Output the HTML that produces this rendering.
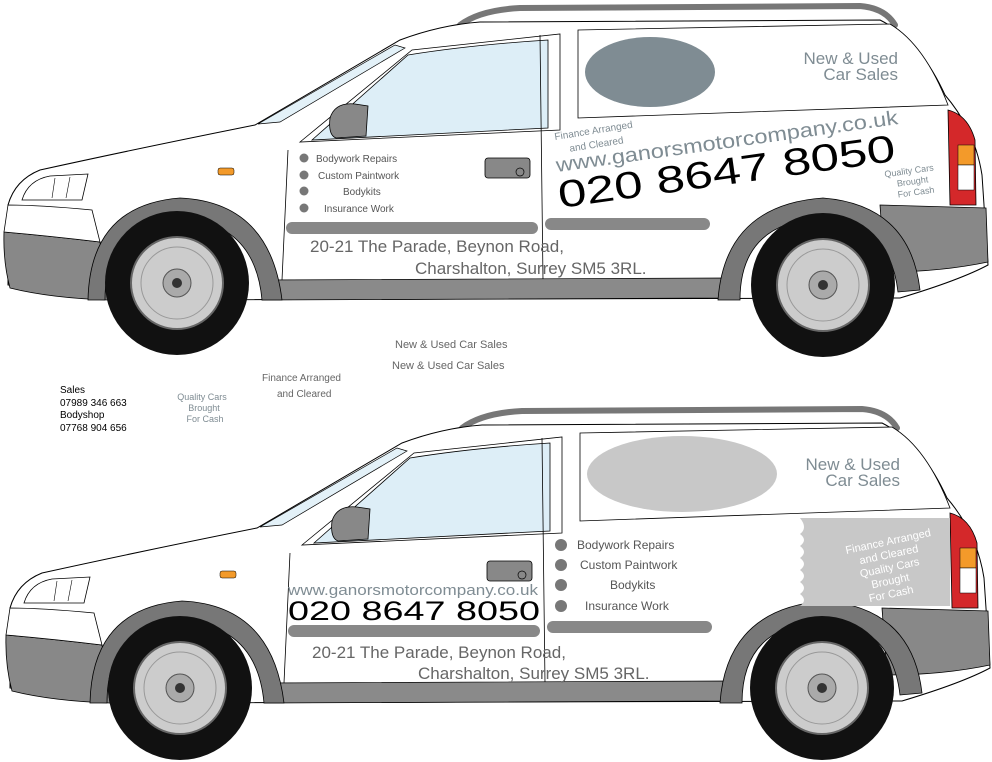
<!DOCTYPE html>
<html><head><meta charset="utf-8"><style>
html,body{margin:0;padding:0;background:#fff;}
svg{display:block;font-family:"Liberation Sans",sans-serif;}
</style></head><body>
<svg width="992" height="762" viewBox="0 0 992 762" xmlns="http://www.w3.org/2000/svg">
<defs>
<g id="wheel">
  <circle cx="0" cy="0" r="72" fill="#111"/>
  <circle cx="0" cy="0" r="46" fill="#ccc" stroke="#666" stroke-width="2"/>
  <circle cx="0" cy="0" r="36" fill="none" stroke="#999" stroke-width="1"/>
  <circle cx="0" cy="0" r="14" fill="#aaa" stroke="#555" stroke-width="1"/>
  <circle cx="0" cy="0" r="5" fill="#333"/>
</g>
<g id="car">
  <path d="M460,25 Q480,10 520,8 L860,6 Q885,8 895,25" fill="none" stroke="#777" stroke-width="6" stroke-linecap="round"/>
  <path d="M8,205 Q15,180 40,170 Q140,148 255,125 L400,40 Q440,25 480,22 L880,20 Q920,40 945,95 Q975,130 982,175 L988,265 Q960,280 900,298 L110,300 L8,285 Z" fill="#fff" stroke="#000" stroke-width="1"/>
  <path d="M258,124 L395,45 L405,48 L280,122 Z" fill="#e3f1f8" stroke="#000" stroke-width="0.7"/>
  <path d="M312,140 L408,55 Q470,45 548,40 L548,128 Z" fill="#ddeef7" stroke="#000" stroke-width="0.8"/>
  <path d="M300,142 L412,50 L560,34 L560,130 Z" fill="none" stroke="#000" stroke-width="0.8"/>
  <path d="M578,30 L890,24 Q925,45 948,105 L578,118 Z" fill="#fff" stroke="#000" stroke-width="0.8"/>
  <path d="M540,35 L543,280 M288,150 L282,280" fill="none" stroke="#000" stroke-width="0.8"/>
  <path d="M330,118 Q335,102 355,104 L368,106 L366,136 L336,138 Q328,135 330,118 Z" fill="#888" stroke="#000" stroke-width="0.8"/>
  <rect x="485" y="158" width="45" height="20" rx="3" fill="#888" stroke="#000" stroke-width="0.8"/>
  <circle cx="520" cy="172" r="4" fill="none" stroke="#000" stroke-width="0.7"/>
  <rect x="286" y="222" width="252" height="12" rx="6" fill="#888"/>
  <rect x="545" y="218" width="165" height="12" rx="6" fill="#888"/>
  <path d="M262,280 L722,278 L722,298 L262,300 Z" fill="#8a8a8a" stroke="#000" stroke-width="0.7"/>
  <path d="M4,232 Q50,236 100,242 L108,300 Q50,298 10,288 Q3,262 4,232 Z" fill="#888" stroke="#000" stroke-width="0.8"/>
  <path d="M4,232 Q50,236 100,242 L92,210 Q40,205 8,205 Z" fill="#fff" stroke="#000" stroke-width="0.8"/>
  <path d="M22,200 Q28,180 50,176 L88,174 L82,200 Z" fill="#fff" stroke="#000" stroke-width="0.8"/>
  <path d="M55,178 L52,198 M70,177 L66,198" stroke="#000" stroke-width="0.6"/>
  <rect x="218" y="168" width="16" height="7" rx="2" fill="#f39a2a" stroke="#000" stroke-width="0.5"/>
  <path d="M880,205 L986,208 L988,262 Q940,272 885,272 Z" fill="#888" stroke="#000" stroke-width="0.8"/>
  <path d="M948,110 Q968,115 975,140 L976,205 L950,205 Z" fill="#d4282a" stroke="#000" stroke-width="0.8"/>
  <rect x="958" y="145" width="16" height="20" fill="#f39a2a" stroke="#000" stroke-width="0.5"/>
  <rect x="958" y="165" width="16" height="25" fill="#fff" stroke="#000" stroke-width="0.5"/>
  <path d="M88,300 Q90,205 180,198 Q270,202 282,300 L262,300 Q255,222 178,218 Q105,222 105,300 Z" fill="#777" stroke="#000" stroke-width="0.8"/>
  <path d="M718,300 Q725,205 823,198 Q910,205 920,290 L898,292 Q890,222 822,218 Q740,222 740,300 Z" fill="#777" stroke="#000" stroke-width="0.8"/>
</g>
</defs>

<use href="#car"/>
<use href="#wheel" x="177" y="283"/>
<use href="#wheel" x="823" y="285"/>
<ellipse cx="650" cy="72" rx="65" ry="35" fill="#7f8c93"/>
<text x="898" y="64" font-size="17" fill="#7f8c93" text-anchor="end">New &amp; Used</text>
<text x="898" y="80" font-size="17" fill="#7f8c93" text-anchor="end">Car Sales</text>
<g font-size="10" fill="#555">
<circle cx="304" cy="158" r="4.5" fill="#777"/><text x="316" y="162">Bodywork Repairs</text>
<circle cx="304" cy="175" r="4.5" fill="#777"/><text x="318" y="179">Custom Paintwork</text>
<circle cx="304" cy="191" r="4.5" fill="#777"/><text x="343" y="195">Bodykits</text>
<circle cx="304" cy="208" r="4.5" fill="#777"/><text x="324" y="212">Insurance Work</text>
</g>
<g transform="rotate(-9 555 140)" fill="#7f8c93" font-size="10">
<text x="555" y="140">Finance Arranged</text>
<text x="568" y="154">and Cleared</text>
</g>
<text transform="rotate(-8 557 172)" x="557" y="172" font-size="20" fill="#7f8c93" textLength="345" lengthAdjust="spacingAndGlyphs">www.ganorsmotorcompany.co.uk</text>
<text transform="rotate(-8 560 208)" x="560" y="208" font-size="38" fill="#000" textLength="340" lengthAdjust="spacingAndGlyphs">020 8647 8050</text>
<g transform="rotate(-8 880 180)" fill="#7f8c93" font-size="9" text-anchor="middle">
<text x="910" y="178">Quality Cars</text><text x="912" y="189">Brought</text><text x="914" y="200">For Cash</text>
</g>
<text x="310" y="252" font-size="17" fill="#666">20-21 The Parade,  Beynon Road,</text>
<text x="415" y="274" font-size="17" fill="#666">Charshalton, Surrey SM5 3RL.</text>

<text x="395" y="348" font-size="11" fill="#666">New &amp; Used Car Sales</text>
<text x="392" y="369" font-size="11" fill="#666">New &amp; Used Car Sales</text>
<text x="262" y="381" font-size="10" fill="#666">Finance Arranged</text>
<text x="277" y="397" font-size="10" fill="#666">and Cleared</text>
<g font-size="9" fill="#7f8c93" text-anchor="middle">
<text x="202" y="400">Quality Cars</text><text x="204" y="411">Brought</text><text x="205" y="422">For Cash</text>
</g>
<g font-size="10" fill="#000">
<text x="60" y="393">Sales</text><text x="60" y="406">07989 346 663</text>
<text x="60" y="418">Bodyshop</text><text x="60" y="431">07768 904 656</text>
</g>

<g transform="translate(2,403)"><use href="#car"/></g>
<use href="#wheel" x="180" y="688"/>
<use href="#wheel" x="822" y="688"/>
<ellipse cx="682" cy="474" rx="95" ry="38" fill="#c8c8c8"/>
<text x="900" y="470" font-size="17" fill="#7f8c93" text-anchor="end">New &amp; Used</text>
<text x="900" y="486" font-size="17" fill="#7f8c93" text-anchor="end">Car Sales</text>
<path d="M800,518 L950,518 L950,606 L800,606 Q808,600 800,594 Q808,588 800,582 Q808,576 800,570 Q808,564 800,558 Q808,552 800,546 Q808,540 800,534 Q808,528 800,518 Z" fill="#c8c8c8"/>
<g transform="rotate(-12 890 560)" fill="#fff" font-size="11" text-anchor="middle">
<text x="892" y="545">Finance Arranged</text><text x="890" y="558">and Cleared</text>
<text x="888" y="571">Quality Cars</text><text x="886" y="584">Brought</text><text x="884" y="597">For Cash</text>
</g>
<g font-size="12" fill="#555">
<circle cx="561" cy="545" r="6" fill="#777"/><text x="577" y="549">Bodywork Repairs</text>
<circle cx="561" cy="565" r="6" fill="#777"/><text x="580" y="569">Custom Paintwork</text>
<circle cx="561" cy="585" r="6" fill="#777"/><text x="610" y="589">Bodykits</text>
<circle cx="561" cy="606" r="6" fill="#777"/><text x="585" y="610">Insurance Work</text>
</g>
<text x="288" y="595" font-size="15" fill="#7f8c93" textLength="250" lengthAdjust="spacingAndGlyphs">www.ganorsmotorcompany.co.uk</text>
<text x="288" y="620" font-size="27" fill="#000" textLength="252" lengthAdjust="spacingAndGlyphs">020 8647 8050</text>
<text x="312" y="658" font-size="17" fill="#666">20-21 The Parade,  Beynon Road,</text>
<text x="418" y="679" font-size="17" fill="#666">Charshalton, Surrey SM5 3RL.</text>
</svg>
</body></html>
